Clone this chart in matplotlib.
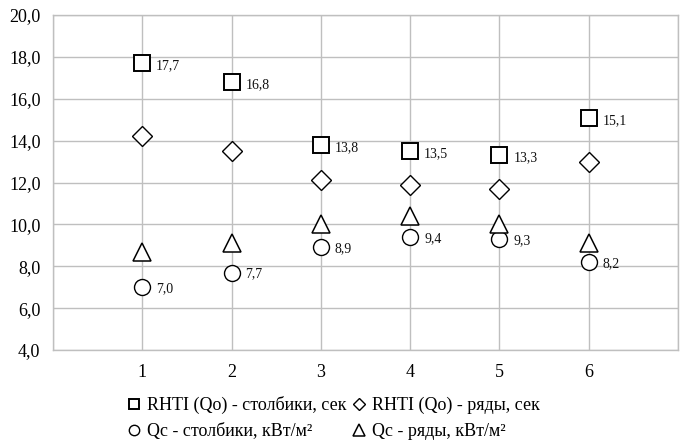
import matplotlib
matplotlib.use("Agg")
import matplotlib.pyplot as plt
from matplotlib.ticker import FixedLocator, FuncFormatter

plt.rcParams['font.family'] = ['Liberation Serif', 'DejaVu Serif']

categories = [1, 2, 3, 4, 5, 6]
rhti_cols = [17.7, 16.8, 13.8, 13.5, 13.3, 15.1]
rhti_rows = [14.2, 13.5, 12.1, 11.9, 11.7, 13.0]
qc_cols = [7.0, 7.7, 8.9, 9.4, 9.3, 8.2]
qc_rows = [8.7, 9.1, 10.0, 10.4, 10.0, 9.1]
y_ticks = [4, 6, 8, 10, 12, 14, 16, 18, 20]

labels = ["RHTI (Qo) - столбики, сек", "RHTI (Qo) - ряды, сек",
          "Qc - столбики, кВт/м²", "Qc - ряды, кВт/м²"]

fig = plt.figure(figsize=(6.86, 4.42), dpi=100)
ax = fig.add_axes([53/686, 1-350/442, (678-53)/686, (350-15)/442])

grid_c = '#bfbfbf'
kw = dict(linestyle='none', markerfacecolor='white', markeredgecolor='black', zorder=3)
h1, = ax.plot(categories, rhti_cols, marker='s', markersize=11, markeredgewidth=1.4, **kw)
h2, = ax.plot(categories, rhti_rows, marker='D', markersize=10, markeredgewidth=1.0, **kw)
h3, = ax.plot(categories, qc_cols, marker='o', markersize=11.5, markeredgewidth=1.0, **kw)
h4, = ax.plot(categories, qc_rows, marker='^', markersize=13, markeredgewidth=1.1, **kw)

def fmt(v):
    return f"{v:.1f}".replace('.', ',')

for x, v in zip(categories, rhti_cols):
    ax.annotate(fmt(v), (x, v), xytext=(10, -2), textcoords='offset points',
                ha='left', va='center', fontsize=10, color='#111111', zorder=4)
for x, v in zip(categories, qc_cols):
    ax.annotate(fmt(v), (x, v), xytext=(10, -1), textcoords='offset points',
                ha='left', va='center', fontsize=10, color='#111111', zorder=4)

ax.set_xlim(0, 7)
ax.set_ylim(4, 20)
ax.xaxis.set_major_locator(FixedLocator(range(0, 8)))
ax.xaxis.set_major_formatter(FuncFormatter(lambda v, p: str(int(v)) if 1 <= v <= 6 else ''))
ax.yaxis.set_major_locator(FixedLocator(y_ticks))
ax.yaxis.set_major_formatter(FuncFormatter(lambda v, p: fmt(v)))
ax.tick_params(axis='both', length=0, labelsize=13)
ax.tick_params(axis='y', pad=9)
ax.tick_params(axis='x', pad=10)
ax.grid(True, color=grid_c, linewidth=1.0)
ax.set_axisbelow(True)
for s in ax.spines.values():
    s.set_color(grid_c)
    s.set_linewidth(1.0)

fig.legend([h1, h3, h2, h4], [labels[0], labels[2], labels[1], labels[3]],
           ncol=2, loc='upper left', bbox_to_anchor=(128/686, 1-396/442),
           frameon=False, fontsize=13, handlelength=0.7, handletextpad=0.35,
           columnspacing=0.35, labelspacing=0.5, markerscale=0.65,
           borderaxespad=0, borderpad=0)

fig.savefig('out.png', dpi=100)
